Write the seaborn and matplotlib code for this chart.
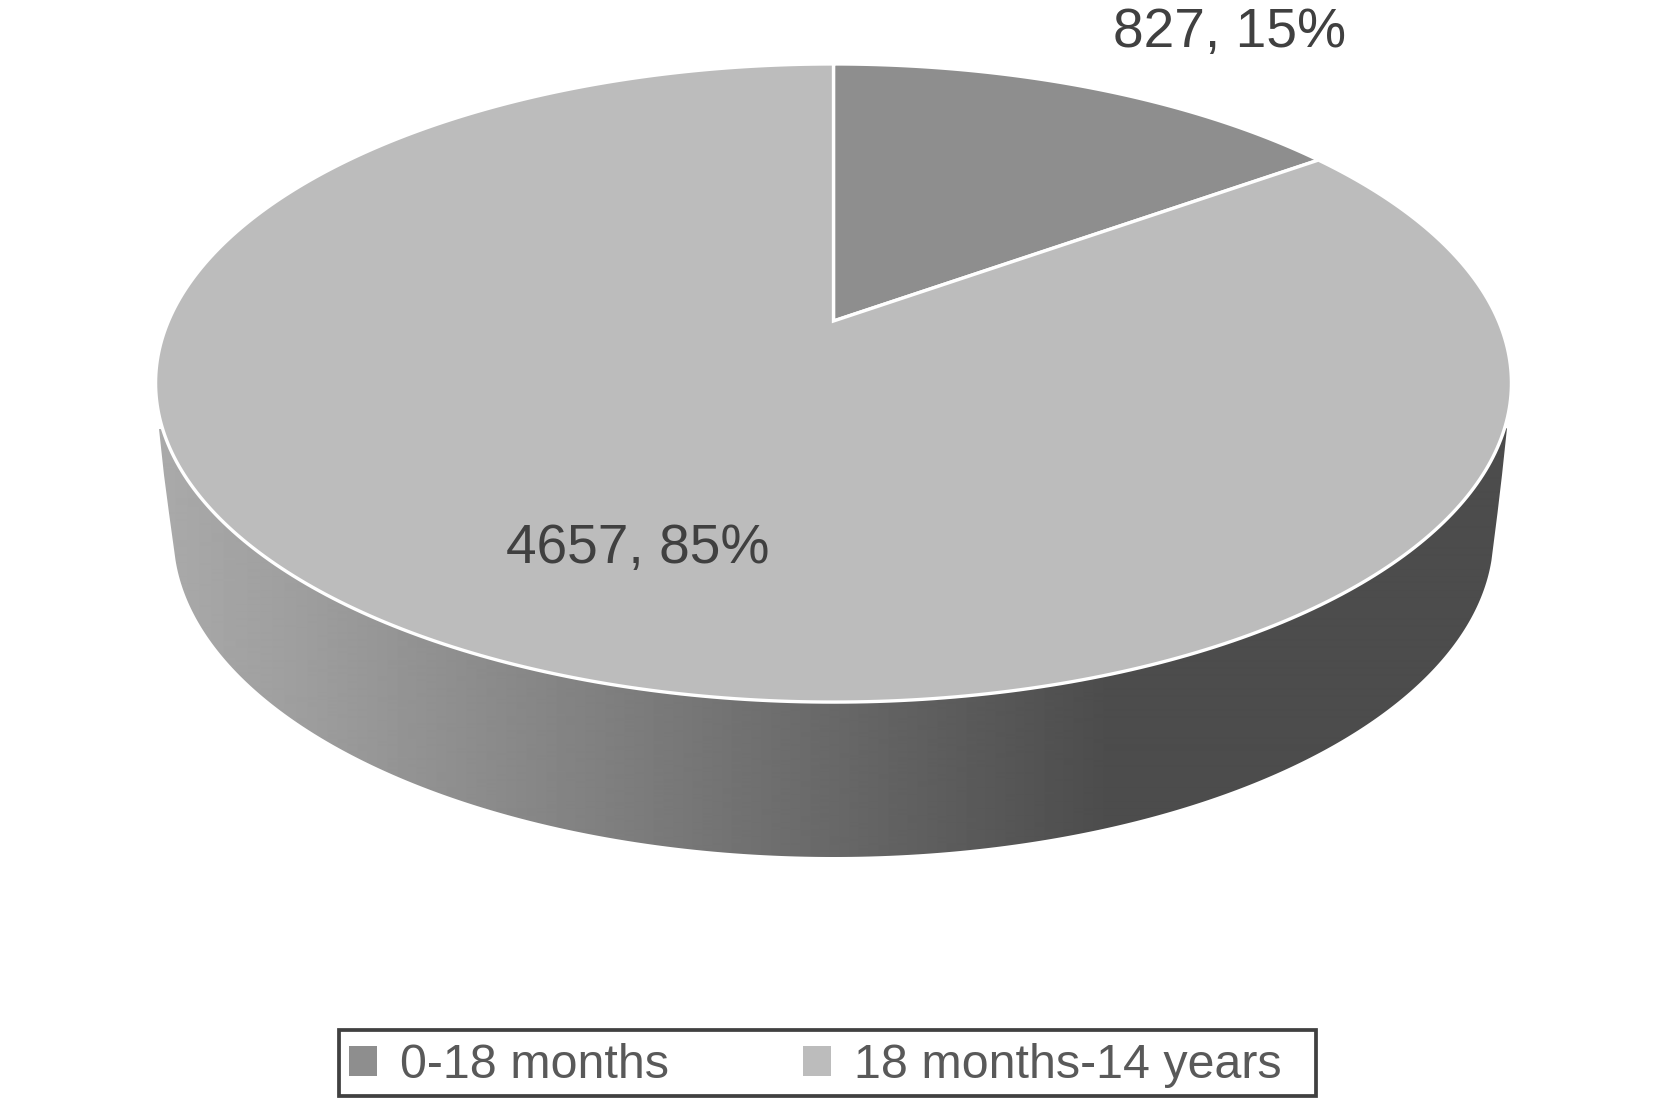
import numpy as np
import matplotlib
matplotlib.use("Agg")
import matplotlib.pyplot as plt
from matplotlib.patches import Polygon, Patch, Rectangle
import seaborn as sns

# data
categories = ["0-18 months", "18 months-14 years"]
counts = [827, 4657]
percents = [15, 85]

# style
slice_colors = ["#8e8e8e", "#bcbcbc"]
shade_x = [160, 300, 530, 830, 1105, 1510]
shade_gray = [0.665, 0.62, 0.53, 0.41, 0.30, 0.30]
text_color = "#404040"
legend_text = "#595959"

sns.set_theme(style="white")
plt.rcParams["font.family"] = ["Liberation Sans", "DejaVu Sans"]

fig, ax = plt.subplots(figsize=(16.67, 10.98), dpi=100)
ax.set_position([0, 0, 1, 1])
ax.set_xlim(0, 1667)
ax.set_ylim(1098, 0)
ax.axis("off")


def project(theta):
    """Perspective view of the pie's unit disc; theta runs clockwise from the top."""
    u, v = np.sin(theta), np.cos(theta)
    w = 0.1944 * v + 1
    return np.column_stack([833.5 + 665 * u / w, (321 - 244.6 * v) / w])


# side wall of the disc
t = np.linspace(np.pi * 0.5, np.pi * 1.5, 300)
rim = project(t)
rim = rim[rim[:, 1] >= 428]
low = np.linspace(0, np.pi, 400)
bottom = np.column_stack([833.5 + 660 * np.cos(low), 535 + 322 * np.sin(low)])
bottom = bottom[bottom[:, 1] >= 560]
wall_right = [[1507, 428], [1502, 475], [1497.5, 513]]
wall_left = [[169, 513], [164, 475], [159, 429]]
wall_pts = np.vstack([wall_right, bottom, wall_left, rim[::-1]])
wall = Polygon(wall_pts, closed=True, facecolor="none", edgecolor="none", transform=ax.transData)
ax.add_patch(wall)
xs = np.arange(150, 1520)
grad = np.interp(xs, shade_x, shade_gray)[None, :]
img = ax.imshow(grad, cmap="gray", vmin=0, vmax=1, extent=(150, 1520, 870, 420),
                aspect="auto", zorder=1, interpolation="bilinear")
img.set_clip_path(wall)

# top face
fractions = np.array(counts) / sum(counts)
edges = np.concatenate([[0], np.cumsum(fractions)]) * 2 * np.pi
apex = np.array([[833.5, 321.0]])
for i, color in enumerate(slice_colors):
    arc = project(np.linspace(edges[i], edges[i + 1], 400))
    ax.add_patch(Polygon(np.vstack([apex, arc]), closed=True, facecolor=color,
                         edgecolor="white", linewidth=2.4, joinstyle="miter", zorder=2))

# data labels
label_pos = [(1230, 33), (638, 549)]
for n, p, (x, y) in zip(counts, percents, label_pos):
    ax.text(x, y, f"{n}, {p}%", ha="center", va="center", fontsize=39.7, color=text_color, zorder=3)

# legend
ax.add_patch(Rectangle((339, 1030), 977, 66, facecolor="white", edgecolor="#404040",
                       linewidth=2.7, zorder=4))
handles = [Patch(facecolor=c, edgecolor="none") for c in slice_colors]
leg = ax.legend(handles, categories, loc="center", bbox_to_anchor=(815, 1065.5),
                bbox_transform=ax.transData, ncols=2, fontsize=34.8, frameon=False,
                labelcolor=legend_text,
                handlelength=0.58, handleheight=0.58, handletextpad=0.47,
                columnspacing=2.78, borderpad=0.2, borderaxespad=0)

fig.savefig("out.png", dpi=100, facecolor="white")
